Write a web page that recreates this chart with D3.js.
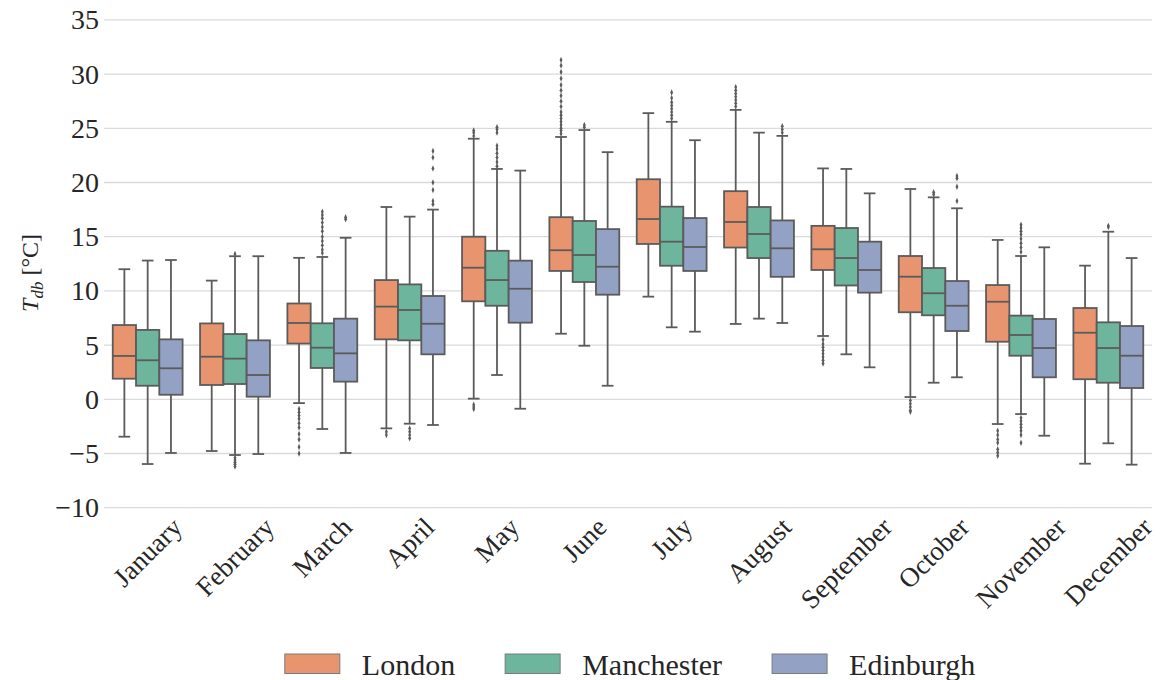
<!DOCTYPE html>
<html>
<head>
<meta charset="utf-8">
<script src="https://cdn.jsdelivr.net/npm/d3@7"></script>
<style>
  html, body { margin: 0; padding: 0; background: #fff; }
  svg { display: block; }
</style>
</head>
<body>
<svg id="chart" width="1163" height="680"></svg>
<script>
// Monthly dry-bulb temperature distributions for three UK cities
const months = ["January", "February", "March", "April", "May", "June",
                "July", "August", "September", "October", "November", "December"];
const cities = ["London", "Manchester", "Edinburgh"];
const cityColors = ["#e8956f", "#6db69d", "#93a1c4"];
const yTicks = [-10, -5, 0, 5, 10, 15, 20, 25, 30, 35];

// Per month: [lower whisker, Q1, median, Q3, upper whisker] in °C
const londonStats = [
  [-3.45, 1.9, 4.0, 6.85, 12.0],
  [-4.77, 1.32, 3.93, 7.0, 10.95],
  [-0.35, 5.14, 7.04, 8.84, 13.05],
  [-2.68, 5.53, 8.55, 11.0, 17.74],
  [0.06, 9.04, 12.14, 15.0, 24.04],
  [6.05, 11.84, 13.75, 16.8, 24.2],
  [9.47, 14.33, 16.63, 20.3, 26.4],
  [6.95, 14.0, 16.36, 19.2, 26.7],
  [5.84, 11.93, 13.84, 16.0, 21.3],
  [0.21, 8.03, 11.31, 13.22, 19.4],
  [-2.28, 5.31, 9.0, 10.54, 14.7],
  [-5.94, 1.85, 6.14, 8.42, 12.33]
];
const manchesterStats = [
  [-5.97, 1.25, 3.6, 6.4, 12.8],
  [-5.14, 1.41, 3.75, 6.02, 13.2],
  [-2.74, 2.89, 4.76, 7.01, 13.13],
  [-2.25, 5.44, 8.24, 10.6, 16.85],
  [2.24, 8.63, 11.0, 13.7, 21.25],
  [4.94, 10.82, 13.31, 16.45, 24.84],
  [6.64, 12.32, 14.54, 17.77, 25.6],
  [7.44, 13.03, 15.25, 17.74, 24.6],
  [4.15, 10.5, 13.03, 15.8, 21.25],
  [1.53, 7.75, 9.78, 12.11, 18.63],
  [-1.36, 4.02, 5.93, 7.72, 13.22],
  [-4.06, 1.53, 4.73, 7.1, 15.46]
];
const edinburghStats = [
  [-4.95, 0.42, 2.86, 5.53, 12.85],
  [-5.05, 0.24, 2.24, 5.44, 13.2],
  [-4.95, 1.63, 4.24, 7.44, 14.9],
  [-2.37, 4.15, 6.97, 9.53, 17.5],
  [-0.87, 7.07, 10.2, 12.79, 21.1],
  [1.25, 9.65, 12.23, 15.7, 22.8],
  [6.24, 11.84, 14.05, 16.72, 23.9],
  [7.04, 11.3, 13.93, 16.5, 24.3],
  [2.95, 9.84, 11.93, 14.54, 19.0],
  [2.03, 6.3, 8.63, 10.91, 17.62],
  [-3.36, 2.03, 4.73, 7.41, 14.02],
  [-6.03, 1.04, 4.02, 6.76, 13.03]
];

// Outlying hourly readings beyond the whiskers, per month
const londonOutliers = [
  [], [],
  [-0.9, -1.2, -1.5, -1.8, -2.2, -2.6, -3.2, -3.7, -4.4, -5.0],
  [-3.0, -3.3],
  [24.3, 24.6, 24.8, -0.5, -0.7, -0.9],
  [24.5, 24.8, 25.0, 25.3, 25.6, 25.9, 26.2, 26.5, 27.0, 27.5, 28.0, 28.5, 29.0, 29.6, 30.2, 30.8, 31.3],
  [],
  [27.0, 27.3, 27.6, 27.9, 28.2, 28.5, 28.8],
  [5.5, 5.1, 4.8, 4.5, 4.2, 3.9, 3.6, 3.3],
  [-0.1, -0.4, -0.7, -1.0, -1.15],
  [-2.9, -3.3, -3.7, -4.0, -4.6, -4.9, -5.2],
  []
];
const manchesterOutliers = [
  [],
  [-5.4, -5.6, -5.8, -6.0, -6.2, 13.4],
  [13.5, 13.8, 14.2, 14.6, 15.0, 15.5, 15.9, 16.3, 16.7, 17.0, 17.3],
  [-2.7, -3.0, -3.3, -3.6],
  [21.5, 21.9, 22.3, 22.7, 23.1, 23.4, 24.6, 24.9, 25.1],
  [25.1, 25.3],
  [25.9, 26.2, 26.5, 26.8, 27.1, 27.4, 27.8, 28.3],
  [],
  [],
  [18.9, 19.1],
  [13.6, 14.0, 14.4, 14.8, 15.2, 15.5, 15.8, 16.1, -1.7, -2.0, -2.3, -2.6, -2.9, -3.3, -4.0],
  [15.9, 16.0]
];
const edinburghOutliers = [
  [], [],
  [16.6, 16.8],
  [18.0, 18.3, 19.3, 20.0, 21.3, 22.3, 22.9],
  [], [], [],
  [24.6, 24.9, 25.2],
  [],
  [18.3, 19.6, 20.4, 20.6],
  [], []
];

const allStats = [londonStats, manchesterStats, edinburghStats];
const allOutliers = [londonOutliers, manchesterOutliers, edinburghOutliers];

const serif = "'Liberation Serif', 'Tinos', 'Times New Roman', 'DejaVu Serif', 'Noto Serif', 'FreeSerif', serif";
const textColor = "#262626";

const svg = d3.select("#chart")
  .attr("font-family", serif)
  .style("font-family", serif);
const margin = { left: 104, right: 1152, top: 19.9, bottom: 507.7 };
const lineColor = "#5b5b5b";

const x = d3.scaleBand().domain(months).range([margin.left, margin.right]).paddingInner(0).paddingOuter(0);
const y = d3.scaleLinear().domain([-10, 35]).range([margin.bottom, margin.top]);
const hue = d3.scaleBand().domain(cities).range([0, x.bandwidth() * 0.8]);
const groupOffset = x.bandwidth() * 0.1;

function serifText(sel, size) {
  return sel.attr("font-family", serif).style("font-family", serif)
    .attr("font-size", size).attr("fill", textColor);
}

// Horizontal grid
svg.append("g").selectAll("line").data(yTicks).join("line")
  .attr("x1", margin.left).attr("x2", margin.right)
  .attr("y1", d => y(d)).attr("y2", d => y(d))
  .attr("stroke", "#dadada").attr("stroke-width", 1.3);

// Y axis tick labels
const yAxis = d3.axisLeft(y).tickValues(yTicks).tickSize(0).tickPadding(5)
  .tickFormat(d => d < 0 ? "\u2212" + Math.abs(d) : String(d));
const yg = svg.append("g").attr("transform", `translate(${margin.left},0)`).call(yAxis);
yg.attr("font-family", serif).attr("font-size", 28);
yg.select(".domain").remove();
serifText(yg.selectAll("text"), 28);

// Y axis title: T_db [°C]
const yTitle = serifText(svg.append("text"), 24)
  .attr("transform", `translate(38,273) rotate(-90)`)
  .attr("text-anchor", "middle");
yTitle.append("tspan").attr("font-style", "italic").text("T");
yTitle.append("tspan").attr("font-style", "italic").attr("font-size", 17).attr("dy", 5).text("db");
yTitle.append("tspan").attr("dy", -5).text(" [°C]");

// Box plots
const boxW = hue.bandwidth();
cities.forEach((city, ci) => {
  const g = svg.append("g").attr("class", "city-" + city);
  months.forEach((m, mi) => {
    const [lw, q1, med, q3, uw] = allStats[ci][mi];
    const x0 = x(m) + groupOffset + hue(city);
    const cx = x0 + boxW / 2;
    const capHalf = boxW / 4;
    const bg = g.append("g");
    // whiskers
    bg.append("line").attr("x1", cx).attr("x2", cx).attr("y1", y(q3)).attr("y2", y(uw))
      .attr("stroke", lineColor).attr("stroke-width", 1.8);
    bg.append("line").attr("x1", cx).attr("x2", cx).attr("y1", y(q1)).attr("y2", y(lw))
      .attr("stroke", lineColor).attr("stroke-width", 1.8);
    // caps
    [lw, uw].forEach(v => {
      bg.append("line").attr("x1", cx - capHalf).attr("x2", cx + capHalf)
        .attr("y1", y(v)).attr("y2", y(v))
        .attr("stroke", lineColor).attr("stroke-width", 1.8);
    });
    // box
    bg.append("rect").attr("x", x0).attr("width", boxW)
      .attr("y", y(q3)).attr("height", y(q1) - y(q3))
      .attr("fill", cityColors[ci]).attr("stroke", lineColor).attr("stroke-width", 1.8);
    // median
    bg.append("line").attr("x1", x0).attr("x2", x0 + boxW)
      .attr("y1", y(med)).attr("y2", y(med))
      .attr("stroke", lineColor).attr("stroke-width", 1.8);
    // outliers as thin diamonds
    bg.selectAll("path.flier").data(allOutliers[ci][mi]).join("path")
      .attr("class", "flier")
      .attr("d", d3.symbol(d3.symbolDiamond, 12))
      .attr("transform", d => `translate(${cx},${y(d)}) scale(0.75,1)`)
      .attr("fill", lineColor);
  });
});

// Month labels rotated 45°, bounding box centred on each group
const labelTop = 514;
const xl = svg.append("g");
months.forEach(m => {
  const t = serifText(xl.append("text"), 27)
    .attr("text-anchor", "middle").attr("dominant-baseline", "central").text(m);
  const bb = t.node().getBBox();
  const half = (bb.width + bb.height * 0.8) * Math.SQRT1_2 / 2;
  t.attr("transform", `translate(${x(m) + x.bandwidth() / 2},${labelTop + half}) rotate(-45)`);
});

// Legend below the plot
const legend = svg.append("g");
const patchW = 55, patchH = 19.5, textGap = 22, itemGap = 50;
let cursor = 0;
cities.forEach((c, i) => {
  const it = legend.append("g");
  it.append("rect").attr("x", 0).attr("y", 654).attr("width", patchW).attr("height", patchH)
    .attr("fill", cityColors[i]).attr("stroke", "#7a7a7a").attr("stroke-width", 1);
  const t = serifText(it.append("text"), 30)
    .attr("x", patchW + textGap).attr("y", 674.5).text(c);
  const w = patchW + textGap + t.node().getComputedTextLength();
  it.attr("transform", `translate(${cursor},0)`);
  cursor += w + itemGap;
});
const totalW = cursor - itemGap;
legend.attr("transform", `translate(${(margin.left + margin.right) / 2 - totalW / 2 + 2},0)`);
</script>
</body>
</html>
